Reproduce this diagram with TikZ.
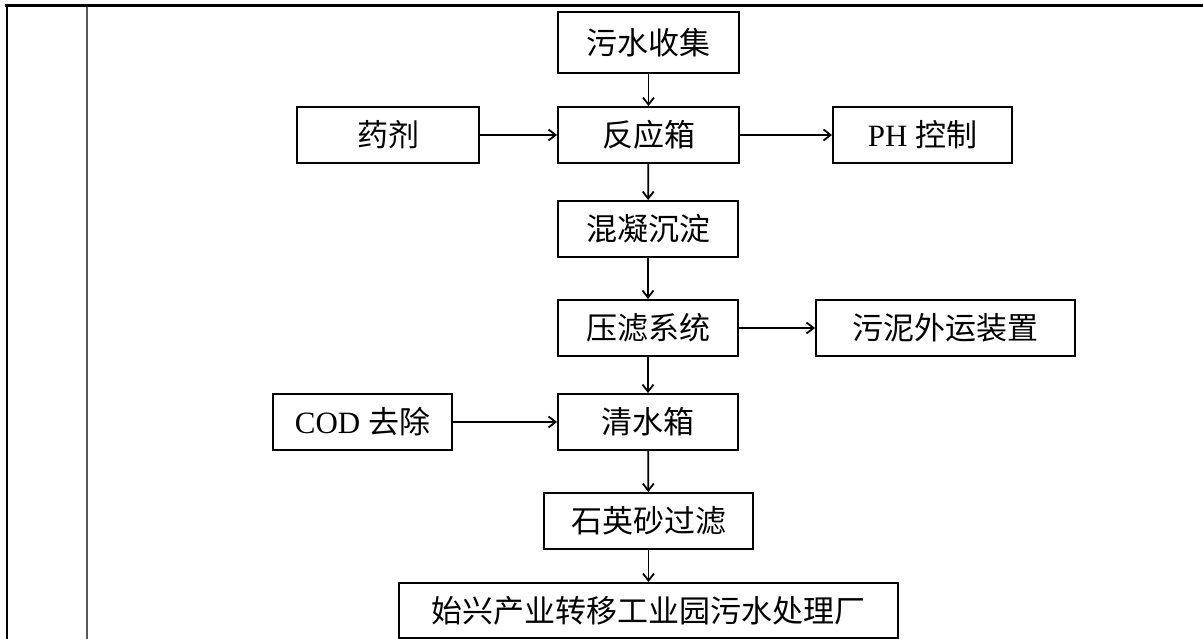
\documentclass[tikz,border=0pt]{standalone}
\usepackage{fontspec}
\setmainfont{Liberation Serif}
\newfontfamily\cjk{Noto Sans CJK SC}
\usetikzlibrary{arrows.meta}

\begin{document}
\begin{tikzpicture}[x=1pt, y=-1pt,
        box/.style={draw, line width=2pt, minimum height=56pt, inner sep=0pt,
            font=\fontsize{31}{36}\selectfont},
        flow/.style={line width=1.7pt, -{Straight Barb[length=7pt,width=11pt,line width=1.8pt]}}]
        \useasboundingbox (0,0) rectangle (1203,639);

        \draw[line width=3pt] (5,6) -- (1203,6);
        \draw[line width=2.5pt] (7,5) -- (7,639);
        \draw[line width=2pt, black!65] (87,7) -- (87,639);

        \node[box, minimum width=181pt, minimum height=61pt] (collect) at (648.5,42.5) {\cjk 污水收集};
        \node[box, minimum width=182pt] (reagent) at (388,135) {\cjk 药剂};
        \node[box, minimum width=181pt] (react) at (648.5,135) {\cjk 反应箱};
        \node[box, minimum width=179pt] (ph) at (922.5,135) {PH \cjk 控制};
        \node[box, minimum width=180pt] (coag) at (648,229) {\cjk 混凝沉淀};
        \node[box, minimum width=180pt] (press) at (648,328) {\cjk 压滤系统};
        \node[box, minimum width=259pt] (sludge) at (945.5,328) {\cjk 污泥外运装置};
        \node[box, minimum width=179pt] (cod) at (362.5,422) {COD \cjk 去除};
        \node[box, minimum width=180pt] (clear) at (648,422) {\cjk 清水箱};
        \node[box, minimum width=209pt] (sand) at (648.5,521) {\cjk 石英砂过滤};
        \node[box, minimum width=499pt, minimum height=55pt] (plant) at (648.5,610.5) {\cjk 始兴产业转移工业园污水处理厂};

        \draw[flow] (collect) -- (react);
        \draw[flow] (reagent) -- (react);
        \draw[flow] (react) -- (ph);
        \draw[flow] (react) -- (coag);
        \draw[flow] (coag) -- (press);
        \draw[flow] (press) -- (sludge);
        \draw[flow] (press) -- (clear);
        \draw[flow] (cod) -- (clear);
        \draw[flow] (clear) -- (sand);
        \draw[flow] (sand) -- (plant);
    \end{tikzpicture}
\end{document}
